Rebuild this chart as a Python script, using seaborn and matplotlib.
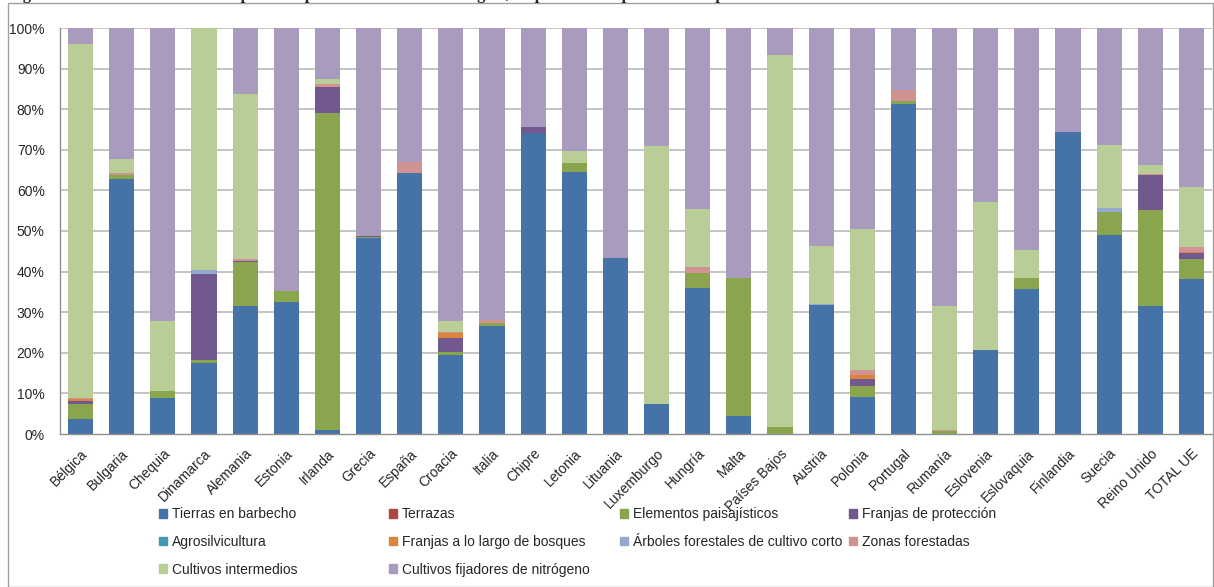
import matplotlib
matplotlib.use("Agg")
import matplotlib.pyplot as plt
import matplotlib.patches as mpatches
from matplotlib.ticker import FixedLocator, PercentFormatter
import numpy as np
import pandas as pd
import seaborn as sns

# Data (percent of each country's total)
countries = ["Bélgica", "Bulgaria", "Chequia", "Dinamarca", "Alemania", "Estonia",
             "Irlanda", "Grecia", "España", "Croacia", "Italia", "Chipre", "Letonia",
             "Lituania", "Luxemburgo", "Hungría", "Malta", "Países Bajos", "Austria",
             "Polonia", "Portugal", "Rumanía", "Eslovenia", "Eslovaquia", "Finlandia",
             "Suecia", "Reino Unido", "TOTAL UE"]

series_names = ["Tierras en barbecho", "Terrazas", "Elementos paisajísticos",
                "Franjas de protección", "Agrosilvicultura",
                "Franjas a lo largo de bosques",
                "Árboles forestales de cultivo corto", "Zonas forestadas",
                "Cultivos intermedios", "Cultivos fijadores de nitrógeno"]

tierras = [3.7, 62.8, 8.9, 17.6, 31.5, 32.5, 1.1, 48.2, 64.4, 19.6, 26.7, 74.2, 64.6, 43.4,
           7.5, 35.9, 4.5, 0.0, 31.9, 9.0, 81.4, 0.0, 20.6, 35.6, 74.5, 49.1, 31.6, 38.3]
terrazas = [0.1, 0, 0, 0, 0, 0, 0, 0, 0, 0, 0, 0, 0, 0,
            0, 0, 0, 0, 0, 0.1, 0, 0, 0, 0, 0, 0, 0, 0]
elementos = [3.5, 1.1, 1.7, 0.6, 10.7, 2.6, 78.0, 0.4, 0.0, 0.7, 0.6, 0.0, 2.2, 0.0,
             0.0, 3.7, 34.0, 1.8, 0.0, 2.8, 0.5, 0.8, 0.0, 2.9, 0.0, 5.5, 23.6, 4.9]
proteccion = [0.8, 0, 0, 21.1, 0.4, 0, 6.4, 0.2, 0, 3.4, 0, 1.4, 0, 0,
              0, 0, 0, 0, 0, 1.6, 0, 0, 0, 0, 0, 0, 8.7, 1.5]
agro = [0, 0, 0, 0, 0, 0, 0, 0, 0, 0, 0, 0, 0, 0,
        0, 0, 0, 0, 0, 0, 0, 0, 0, 0, 0, 0, 0, 0]
bosques = [0.5, 0, 0, 0, 0, 0, 0, 0, 0, 1.2, 0, 0, 0, 0,
           0, 0, 0, 0, 0, 1.0, 0, 0, 0, 0, 0, 0, 0, 0.1]
arboles = [0, 0, 0, 1.1, 0, 0, 0, 0, 0, 0, 0, 0, 0, 0,
           0, 0, 0, 0, 0.2, 0, 0, 0, 0.2, 0, 0, 1.1, 0, 0.1]
zonas = [0.3, 0.3, 0, 0, 0.5, 0, 0.6, 0, 2.5, 0.2, 0.8, 0, 0, 0,
         0, 1.6, 0, 0, 0, 1.2, 2.8, 0.2, 0, 0, 0, 0, 0.2, 1.2]
intermedios = [87.2, 3.5, 17.1, 59.6, 40.5, 0, 1.3, 0, 0, 2.8, 0, 0, 2.9, 0,
               63.5, 14.1, 0, 91.5, 14.4, 34.8, 0, 30.6, 36.3, 6.8, 0, 15.6, 2.2, 14.9]
nitrogeno = [4.0, 32.3, 72.2, 0.0, 16.3, 64.9, 12.6, 51.2, 33.1, 72.3, 71.9, 24.4, 30.3, 56.6,
             29.0, 44.7, 61.5, 6.7, 53.7, 49.6, 15.3, 68.4, 42.9, 54.7, 25.5, 28.7, 33.7, 39.2]

colors = ["#4572A7", "#AA4643", "#89A54E", "#71588F", "#4198AF",
          "#DB843D", "#93A9CF", "#D19392", "#B9CD96", "#A99BBD"]

df = pd.DataFrame(dict(zip(series_names,
                           [tierras, terrazas, elementos, proteccion, agro, bosques,
                            arboles, zonas, intermedios, nitrogeno])), index=countries)
# 100% stacked: normalise each country
df = df.div(df.sum(axis=1), axis=0) * 100
cum = df.cumsum(axis=1)

sns.set_style("white")
plt.rcParams["font.family"] = ["Liberation Sans", "DejaVu Sans"]

fig = plt.figure(figsize=(12.14, 5.87), dpi=100)
ax = fig.add_axes([60 / 1214, 1 - 434 / 587, 1152 / 1214, 406 / 587])

# grid first so bars cover it
for v in range(10, 101, 10):
    ax.axhline(v, color="#B4B4B4", lw=1.1, zorder=0)

# stacked bars: draw cumulative totals from the top series down
for name, col in zip(reversed(series_names), reversed(colors)):
    d = pd.DataFrame({"country": countries, "value": cum[name].values})
    sns.barplot(data=d, x="country", y="value", order=countries, color=col,
                width=0.61, saturation=1, edgecolor="none", ax=ax, zorder=2)

ax.set_xlim(-0.5, len(countries) - 0.5)
ax.set_ylim(0, 100)
ax.set_xlabel("")
ax.set_ylabel("")
ax.yaxis.set_major_locator(FixedLocator(range(0, 101, 10)))
ax.yaxis.set_major_formatter(PercentFormatter(decimals=0))
ax.tick_params(axis="y", labelsize=10, length=3, color="#909090", pad=8)

ax.set_xticks(range(len(countries)))
ax.set_xticklabels(countries, rotation=45, ha="right", rotation_mode="anchor",
                   fontsize=10)
ax.tick_params(axis="x", which="major", length=0, pad=9)
ax.set_xticks(np.arange(len(countries) + 1) - 0.5, minor=True)
ax.tick_params(axis="x", which="minor", length=5, color="#909090")

for s in ["top", "right"]:
    ax.spines[s].set_visible(False)
for s in ["left", "bottom"]:
    ax.spines[s].set_color("#909090")
    ax.spines[s].set_linewidth(1)

# legend laid out like the original: 4 columns, filled row by row
handles = [mpatches.Patch(color=c, label=n) for n, c in zip(series_names, colors)]
col_x = [159, 389, 620, 849]
for j, x in enumerate(col_x):
    hs = handles[j::4]
    fig.legend(handles=hs, loc="upper left",
               bbox_to_anchor=(x / 1214, 1 - 507 / 587), frameon=False,
               fontsize=10, handlelength=0.6, handleheight=0.6,
               handletextpad=0.35, labelspacing=1.0, borderaxespad=0,
               borderpad=0)

# outer chart border
fig.patches.append(mpatches.Rectangle((8 / 1214, 0), 1205 / 1214, 1 - 3 / 587,
                                      transform=fig.transFigure, fill=False,
                                      edgecolor="#A0A0A0", lw=1))

# caption above the chart, cut off by the top edge as in the original
fig.text(8 / 1214, 1 + 1 / 587,
         "Figura 6. Peso de los diferentes tipos de superficies de interés ecológico, respecto a la superficie total por Estado miembro",
         fontsize=12, fontweight="bold", family=["Liberation Serif", "DejaVu Serif"],
         va="baseline", ha="left")

fig.savefig("out.png", dpi=100)
